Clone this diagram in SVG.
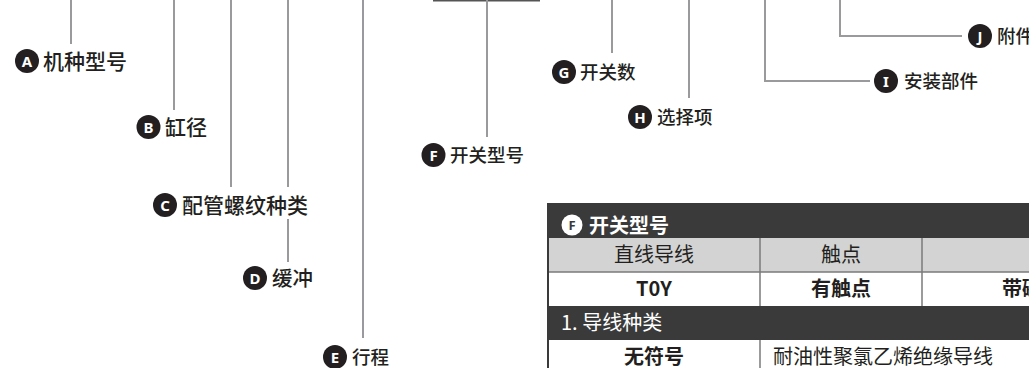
<svg xmlns="http://www.w3.org/2000/svg" width="1029" height="368" viewBox="0 0 1029 368">
<style>
.ln{stroke:#9a9a9c;stroke-width:2;fill:none}
.bar{stroke:#555;stroke-width:2;fill:none}
.lbl{font-family:"Noto Sans CJK SC","Noto Sans",sans-serif;fill:#231f20;font-weight:500}
.bdg{fill:#231f20}
.bl{font-family:"Noto Sans","Liberation Sans",sans-serif;font-weight:700;fill:#fff;text-anchor:middle}
.t{font-family:"Noto Sans CJK SC","Noto Sans",sans-serif;font-size:20px;fill:#231f20}
.tb{font-weight:700}
.tw{fill:#fff}
.c{text-anchor:middle}
.grid{stroke:#7a7a7a;stroke-width:1.5;fill:none}
</style>
<rect width="1029" height="368" fill="#fff"/>
<g id="connectors">
<line class="bar" x1="433" y1="0.5" x2="540" y2="0.5"/>
<line class="ln" x1="71" y1="0" x2="71" y2="44"/>
<line class="ln" x1="174" y1="0" x2="174" y2="110"/>
<line class="ln" x1="231" y1="0" x2="231" y2="187"/>
<line class="ln" x1="288" y1="0" x2="288" y2="187"/>
<line class="ln" x1="288" y1="219" x2="288" y2="262"/>
<line class="ln" x1="363" y1="0" x2="363" y2="338"/>
<line class="ln" x1="487" y1="0" x2="487" y2="137"/>
<line class="ln" x1="612" y1="0" x2="612" y2="53"/>
<line class="ln" x1="689" y1="0" x2="689" y2="98"/>
<polyline class="ln" points="765,0 765,81 870,81"/>
<polyline class="ln" points="840,0 840,36 962,36"/>
</g>
<g id="nodeA"><circle class="bdg" cx="27" cy="61" r="12"/><text class="bl" x="27" y="66.5" font-size="15">A</text><text class="lbl" x="43" y="69" font-size="21">机种型号</text></g>
<g id="nodeB"><circle class="bdg" cx="148.5" cy="127" r="12"/><text class="bl" x="148.5" y="132.5" font-size="15">B</text><text class="lbl" x="165" y="135" font-size="21">缸径</text></g>
<g id="nodeC"><circle class="bdg" cx="165" cy="205" r="12"/><text class="bl" x="165" y="210.5" font-size="15">C</text><text class="lbl" x="182" y="213" font-size="21">配管螺纹种类</text></g>
<g id="nodeD"><circle class="bdg" cx="255" cy="278" r="12"/><text class="bl" x="255" y="283.5" font-size="15">D</text><text class="lbl" x="272" y="286" font-size="20.5">缓冲</text></g>
<g id="nodeE"><circle class="bdg" cx="335" cy="357" r="12"/><text class="bl" x="335" y="362.5" font-size="15">E</text><text class="lbl" x="352" y="364" font-size="18.5">行程</text></g>
<g id="nodeF"><circle class="bdg" cx="433.5" cy="155" r="12"/><text class="bl" x="433.5" y="160.5" font-size="15">F</text><text class="lbl" x="450" y="162" font-size="18.5">开关型号</text></g>
<g id="nodeG"><circle class="bdg" cx="564" cy="72" r="12"/><text class="bl" x="564" y="77.5" font-size="15">G</text><text class="lbl" x="580" y="79" font-size="18.5">开关数</text></g>
<g id="nodeH"><circle class="bdg" cx="640" cy="117" r="12"/><text class="bl" x="640" y="122.5" font-size="15">H</text><text class="lbl" x="657" y="124" font-size="18.5">选择项</text></g>
<g id="nodeI"><circle class="bdg" cx="886" cy="81" r="12"/><text class="bl" x="886" y="86.5" font-size="15">I</text><text class="lbl" x="904" y="88" font-size="18.5">安装部件</text></g>
<g id="nodeJ"><circle class="bdg" cx="980" cy="36" r="12"/><text class="bl" x="980" y="41.5" font-size="15">J</text><text class="lbl" x="997" y="43" font-size="18.5">附件</text></g>
<g id="table">
<rect x="548" y="203" width="490" height="35" fill="#3a3a3a"/>
<rect x="548" y="238" width="490" height="34" fill="#d3d3d3"/>
<rect x="548" y="272" width="490" height="34" fill="#fff"/>
<rect x="548" y="306" width="490" height="34" fill="#3a3a3a"/>
<rect x="548" y="340" width="490" height="34" fill="#fff"/>
<line class="grid" x1="548" y1="272" x2="1029" y2="272"/>
<line class="grid" x1="760" y1="238" x2="760" y2="306"/>
<line class="grid" x1="922" y1="238" x2="922" y2="306"/>
<line class="grid" x1="760" y1="340" x2="760" y2="368"/>
<line x1="548" y1="203" x2="548" y2="368" stroke="#3a3a3a" stroke-width="2"/>
<circle cx="572" cy="225" r="10.5" fill="#fff"/>
<text x="572" y="230" font-family="Noto Sans,Liberation Sans,sans-serif" font-size="13" font-weight="700" fill="#3a3a3a" text-anchor="middle">F</text>
<text class="t tb tw" x="589" y="233" font-size="23">开关型号</text>
<text class="t c" x="654" y="262" font-size="19">直线导线</text>
<text class="t c" x="841" y="262" font-size="20">触点</text>
<text class="t tb c" x="654" y="296">T0Y</text>
<text class="t tb c" x="841" y="296">有触点</text>
<text class="t tb" x="1002" y="296">带磁</text>
<text class="t tw" x="561" y="330">1. 导线种类</text>
<text class="t tb c" x="654" y="364">无符号</text>
<text class="t" x="773" y="364" font-size="21">耐油性聚氯乙烯绝缘导线</text>
</g>
</svg>
